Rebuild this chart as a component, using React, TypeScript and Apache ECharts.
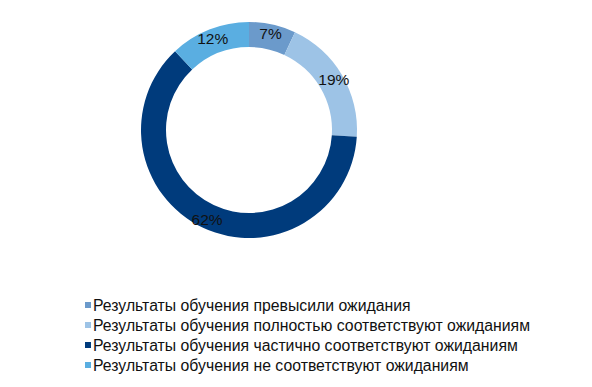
import React, { useEffect, useRef } from "react";
import * as echarts from "echarts";

const categories = [
  "Результаты обучения превысили ожидания",
  "Результаты обучения полностью соответствуют ожиданиям",
  "Результаты обучения частично соответствуют ожиданиям",
  "Результаты обучения не соответствуют ожиданиям",
];
const values = [7, 19, 62, 12];
const colors = ["#6b9acb", "#9dc3e6", "#003b7c", "#5aaee1"];

export default function App() {
  const ref = useRef<HTMLDivElement>(null);
  useEffect(() => {
    if (!ref.current) return;
    const chart = echarts.init(ref.current, null, { renderer: "svg" });
    chart.setOption({
      animation: false,
      backgroundColor: "#ffffff",
      color: colors,
      legend: {
        orient: "vertical",
        left: 80,
        top: 290,
        itemWidth: 6,
        itemHeight: 6,
        itemGap: 0,
        icon: "rect",
        textStyle: {
          fontFamily: "Liberation Sans, Arial, sans-serif",
          fontSize: 15.8,
          lineHeight: 20,
          color: "#111",
          padding: [0, 0, 0, -3],
        },
        data: categories,
      },
      series: [
        {
          type: "pie",
          center: [249, 130],
          radius: [83, 108],
          startAngle: 90,
          clockwise: true,
          avoidLabelOverlap: false,
          label: {
            show: true,
            position: "inside",
            formatter: "{c}%",
            fontFamily: "Liberation Sans, Arial, sans-serif",
            fontSize: 15.5,
            color: "#111",
          },
          labelLine: { show: false },
          itemStyle: { borderWidth: 0 },
          emphasis: { disabled: true },
          data: categories.map((name, i) => ({ name, value: values[i] })),
        },
      ],
    });
    return () => chart.dispose();
  }, []);
  return (
    <div
      ref={ref}
      style={{ position: "absolute", left: 0, top: 0, width: 592, height: 387 }}
    />
  );
}
